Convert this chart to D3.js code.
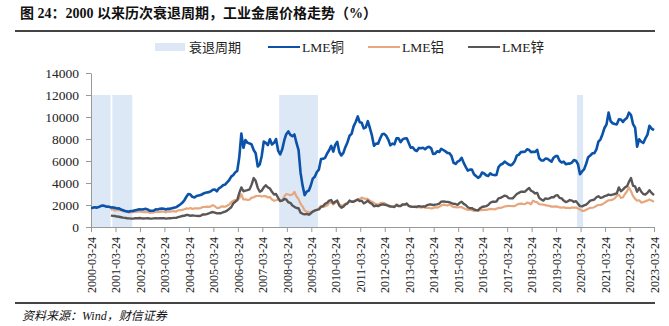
<!DOCTYPE html>
<html><head><meta charset="utf-8">
<script src="https://cdn.jsdelivr.net/npm/d3@7"></script>
<style>body{margin:0;background:#fff}</style>
</head><body>
<svg id="c" width="669" height="326"></svg>
<script>
// ---- data (monthly readings, USD/t) ----
const yTicks = [0,2000,4000,6000,8000,10000,12000,14000];
const xTickLabels = ["2000-03-24","2001-03-24","2002-03-24","2003-03-24","2004-03-24","2005-03-24","2006-03-24","2007-03-24","2008-03-24","2009-03-24","2010-03-24","2011-03-24","2012-03-24","2013-03-24","2014-03-24","2015-03-24","2016-03-24","2017-03-24","2018-03-24","2019-03-24","2020-03-24","2021-03-24","2022-03-24","2023-03-24"];
const recessions = [["2000-03-24","2001-01-10"],["2001-02-05","2001-11-30"],["2007-12-01","2009-06-30"],["2020-02-01","2020-04-30"]];
const recessionTop = 12000;
const seriesNames = ["LME铜","LME铝","LME锌"];
// copper starts 2000-03, aluminium & zinc start 2001-01
const copperStart = "2000-03";
const copper = [
 1750,1740,1800,1760,1810,1900,1960,1900,1840,1850,
 1770,1780,1740,1680,1700,1580,1530,1460,1420,1400,1460,1470,
 1520,1570,1610,1590,1600,1650,1600,1480,1480,1490,1600,1590,
 1650,1680,1660,1590,1650,1650,1710,1760,1790,1920,2050,2200,
 2420,2750,3000,2950,2740,2680,2820,2860,2900,3000,3100,3140,
 3170,3250,3380,3400,3250,3520,3620,3800,3860,4060,4270,4580,
 4730,4980,5100,6380,8500,7200,7900,7650,7600,7500,7000,6700,
 5500,5700,6450,7770,7650,7450,7980,7500,7650,8000,6950,6600,
 7060,7890,8440,8690,8380,8260,8410,7640,6990,4920,3720,2900,
 3220,3320,3750,4400,4570,5000,5220,6170,6200,6290,6680,6980,
 7380,6850,7460,7750,6840,6500,6740,7280,7710,8290,8470,9150,
 9550,10050,9530,9480,8960,9050,9620,9000,8300,7390,7580,7570,
 8040,8440,8470,8290,7950,7420,7580,7510,8070,8060,7710,7960,
 8050,8060,7650,7200,7250,7000,6910,7190,7160,7200,7070,7220,
 7290,7150,6650,6670,6890,6820,7110,7000,6870,6740,6710,6450,
 5830,5730,5940,6040,6290,5830,5460,5130,5220,5220,4800,4640,
 4470,4600,4950,4870,4700,4640,4870,4750,4720,4730,5450,5660,
 5750,5940,5820,5680,5600,5720,5990,6480,6580,6810,6830,6840,
 7070,7000,6800,6840,6820,7020,6250,6050,6050,6220,6200,6070,
 5940,6300,6440,6440,6030,5870,5940,5710,5760,5760,5860,6080,
 6030,5690,4800,5050,5240,5750,6350,6500,6700,6710,7060,7770,
 7970,8460,9000,9340,10400,9610,9430,9360,9330,9780,9770,9550,
 9780,9940,10400,10180,9360,9030,7300,7980,7750,7640,8050,8370,
 9200,8950,8800];
const metalStart = "2001-01";
const aluminium = [
 1550,1620,1500,1520,1550,1500,1430,1410,1390,1300,1380,1360,
 1380,1400,1420,1370,1340,1370,1360,1290,1300,1320,1390,1360,
 1380,1420,1390,1330,1420,1400,1420,1440,1400,1520,1530,1560,
 1610,1690,1660,1730,1640,1700,1700,1690,1720,1820,1820,1850,
 1830,1880,1990,1890,1730,1730,1850,1870,1840,1930,2050,2250,
 2380,2450,2430,2620,2980,2500,2520,2460,2480,2670,2700,2800,
 2820,2830,2770,2820,2800,2680,2720,2500,2390,2430,2500,2400,
 2440,2780,3000,2950,2900,2950,3200,2770,2530,2100,1850,1500,
 1410,1330,1340,1420,1460,1580,1670,1930,1830,1880,1950,2180,
 2230,2050,2210,2320,2050,1930,1990,2120,2160,2350,2330,2350,
 2440,2510,2550,2670,2600,2550,2550,2380,2300,2180,2080,2020,
 2150,2200,2180,2050,2000,1890,1880,1840,2060,1980,1950,2090,
 2040,2050,1910,1860,1830,1820,1770,1820,1760,1820,1750,1740,
 1730,1700,1710,1810,1750,1840,1950,2030,1990,1950,2050,1910,
 1810,1820,1770,1820,1800,1690,1640,1550,1590,1520,1460,1500,
 1480,1530,1530,1570,1550,1600,1630,1640,1590,1670,1730,1730,
 1790,1860,1900,1920,1910,1890,1900,2030,2100,2130,2100,2080,
 2210,2180,2070,2400,2300,2240,2080,2050,2030,1990,1940,1920,
 1850,1860,1870,1850,1780,1760,1800,1740,1750,1720,1770,1770,
 1770,1690,1610,1460,1470,1570,1650,1740,1750,1800,1930,2000,
 2000,2080,2190,2320,2430,2440,2490,2600,2830,2950,2640,2700,
 3000,3250,3600,3250,2830,2560,2400,2430,2220,2260,2350,2400,
 2500,2400,2300];
const zinc = [
 1030,1010,1000,950,930,890,850,830,800,780,760,760,
 790,790,820,790,770,780,810,770,760,780,800,780,
 790,790,810,760,780,800,810,830,830,900,950,1000,
 1020,1100,1090,1020,1060,1030,1010,1000,1020,1130,1140,1170,
 1240,1320,1360,1300,1240,1260,1250,1340,1400,1490,1650,1800,
 2150,2300,2450,3100,3600,3250,3300,3350,3420,3850,4450,4200,
 3550,3200,3300,3600,3800,3600,3500,3200,2950,3000,2650,2350,
 2400,2550,2500,2250,2200,1950,1830,1730,1700,1300,1200,1150,
 1200,1110,1230,1400,1500,1550,1600,1820,1900,2100,2200,2400,
 2450,2150,2300,2400,1950,1750,1850,2050,2150,2400,2300,2300,
 2400,2500,2350,2400,2150,2250,2400,2200,2100,1880,1950,1900,
 1980,2050,2040,2000,1930,1860,1850,1820,2000,1900,1900,2050,
 2030,2130,1930,1860,1830,1850,1840,1900,1850,1880,1860,1990,
 2040,2040,2000,2030,2060,2130,2310,2330,2300,2280,2250,2170,
 2100,2090,2020,2200,2300,2100,2000,1800,1700,1720,1600,1530,
 1520,1710,1820,1860,1900,2000,2200,2300,2300,2320,2600,2650,
 2750,2850,2800,2630,2600,2600,2800,3000,3100,3200,3220,3200,
 3400,3550,3300,3200,3050,3100,2650,2500,2400,2600,2550,2600,
 2700,2700,2850,2900,2650,2600,2400,2270,2330,2450,2400,2280,
 2350,2100,1900,1880,1970,2040,2200,2400,2450,2500,2700,2800,
 2650,2700,2800,2850,2950,2900,2950,3000,3050,3600,3250,3400,
 3600,3700,4100,4450,3750,3700,3200,3550,3200,3000,2950,3100,
 3350,3100,2900];

// ---- drawing ----
const svg = d3.select("#c");
const parse = d3.timeParse("%Y-%m-%d");
const m = {l:91, r:654, t:73, b:227};
const x = d3.scaleTime().domain([parse("2000-03-24"), parse("2023-03-24")]).range([m.l, m.r]);
const y = d3.scaleLinear().domain([0,14000]).range([m.b, m.t]);

function toPoints(start, vals){
  const [yy, mm] = start.split("-").map(Number);
  return vals.map((v,i)=>{
    const d = new Date(yy, mm-1+i, 15);
    return {d, v};
  });
}
const cu = toPoints(copperStart, copper); cu[0].d = parse("2000-03-24");
const al = toPoints(metalStart, aluminium);
const zn = toPoints(metalStart, zinc);
cu[cu.length-1].d = parse("2023-03-24"); al[al.length-1].d = parse("2023-03-24"); zn[zn.length-1].d = parse("2023-03-24");

const serif = "'Liberation Serif','Times New Roman',serif";
const cjk = "'Noto Sans CJK SC',sans-serif";

// title
svg.append("text").attr("x",20).attr("y",18).attr("font-size",14).attr("font-weight","bold")
  .attr("font-family", serif + ",'Noto Sans CJK SC'").attr("fill","#111")
  .text("图 24：2000 以来历次衰退周期，工业金属价格走势（%）");
svg.append("line").attr("x1",15).attr("x2",655).attr("y1",31).attr("y2",31).attr("stroke","#444").attr("stroke-width",2);
svg.append("line").attr("x1",15).attr("x2",655).attr("y1",303).attr("y2",303).attr("stroke","#444").attr("stroke-width",2);
svg.append("text").attr("x",22).attr("y",320).attr("font-size",12).attr("font-style","italic")
  .attr("font-family", serif + ",'Noto Sans CJK SC'").attr("fill","#111").text("资料来源：Wind，财信证券");

// recession bands
svg.append("g").selectAll("rect").data(recessions).join("rect")
  .attr("x", d=>x(parse(d[0]))).attr("width", d=>x(parse(d[1]))-x(parse(d[0])))
  .attr("y", y(recessionTop)).attr("height", y(0)-y(recessionTop)).attr("fill","#dce8f5");

// axes
const ya = svg.append("g").attr("transform",`translate(${m.l},0)`)
  .call(d3.axisLeft(y).tickValues(yTicks).tickSize(5).tickSizeOuter(0).tickFormat(d3.format("d")));
ya.select(".domain").attr("stroke","#999");
ya.selectAll(".tick line").attr("stroke","#999");
ya.selectAll("text").attr("font-family",serif).attr("font-size",13.5).attr("fill","#222").attr("dx",-4);

const xa = svg.append("g").attr("transform",`translate(0,${m.b})`)
  .call(d3.axisBottom(x).tickValues(xTickLabels.map(parse)).tickSize(5).tickSizeOuter(0).tickFormat(d3.timeFormat("%Y-%m-%d")));
xa.select(".domain").attr("stroke","#999");
xa.selectAll(".tick line").attr("stroke","#999");
xa.selectAll("text").attr("font-family",serif).attr("font-size",12).attr("fill","#222")
  .attr("transform","rotate(-90)").attr("text-anchor","end").attr("x",-10).attr("y",0).attr("dy","0.35em");

// lines
const line = d3.line().x(d=>x(d.d)).y(d=>y(d.v));
const colors = ["#0b52a9","#e7a77c","#5a5656"];
svg.append("path").datum(al).attr("d",line).attr("fill","none").attr("stroke",colors[1]).attr("stroke-width",2.2).attr("stroke-linejoin","round");
svg.append("path").datum(zn).attr("d",line).attr("fill","none").attr("stroke",colors[2]).attr("stroke-width",2.4).attr("stroke-linejoin","round");
svg.append("path").datum(cu).attr("d",line).attr("fill","none").attr("stroke",colors[0]).attr("stroke-width",2.6).attr("stroke-linejoin","round");

// legend
const lg = svg.append("g").attr("transform","translate(0,47)");
lg.append("rect").attr("x",155).attr("y",-4).attr("width",30).attr("height",8).attr("fill","#dce8f5");
lg.append("text").attr("x",189).attr("y",5).attr("font-size",13).attr("font-family",cjk).attr("fill","#222").text("衰退周期");
const lx = [268,368,468];
seriesNames.forEach((n,i)=>{
  lg.append("line").attr("x1",lx[i]).attr("x2",lx[i]+32).attr("y1",0).attr("y2",0).attr("stroke",colors[i]).attr("stroke-width",2);
  lg.append("text").attr("x",lx[i]+34).attr("y",5).attr("font-size",13.5).attr("font-family",serif+",'Noto Sans CJK SC'").attr("fill","#222").text(n);
});
</script>
</body></html>
